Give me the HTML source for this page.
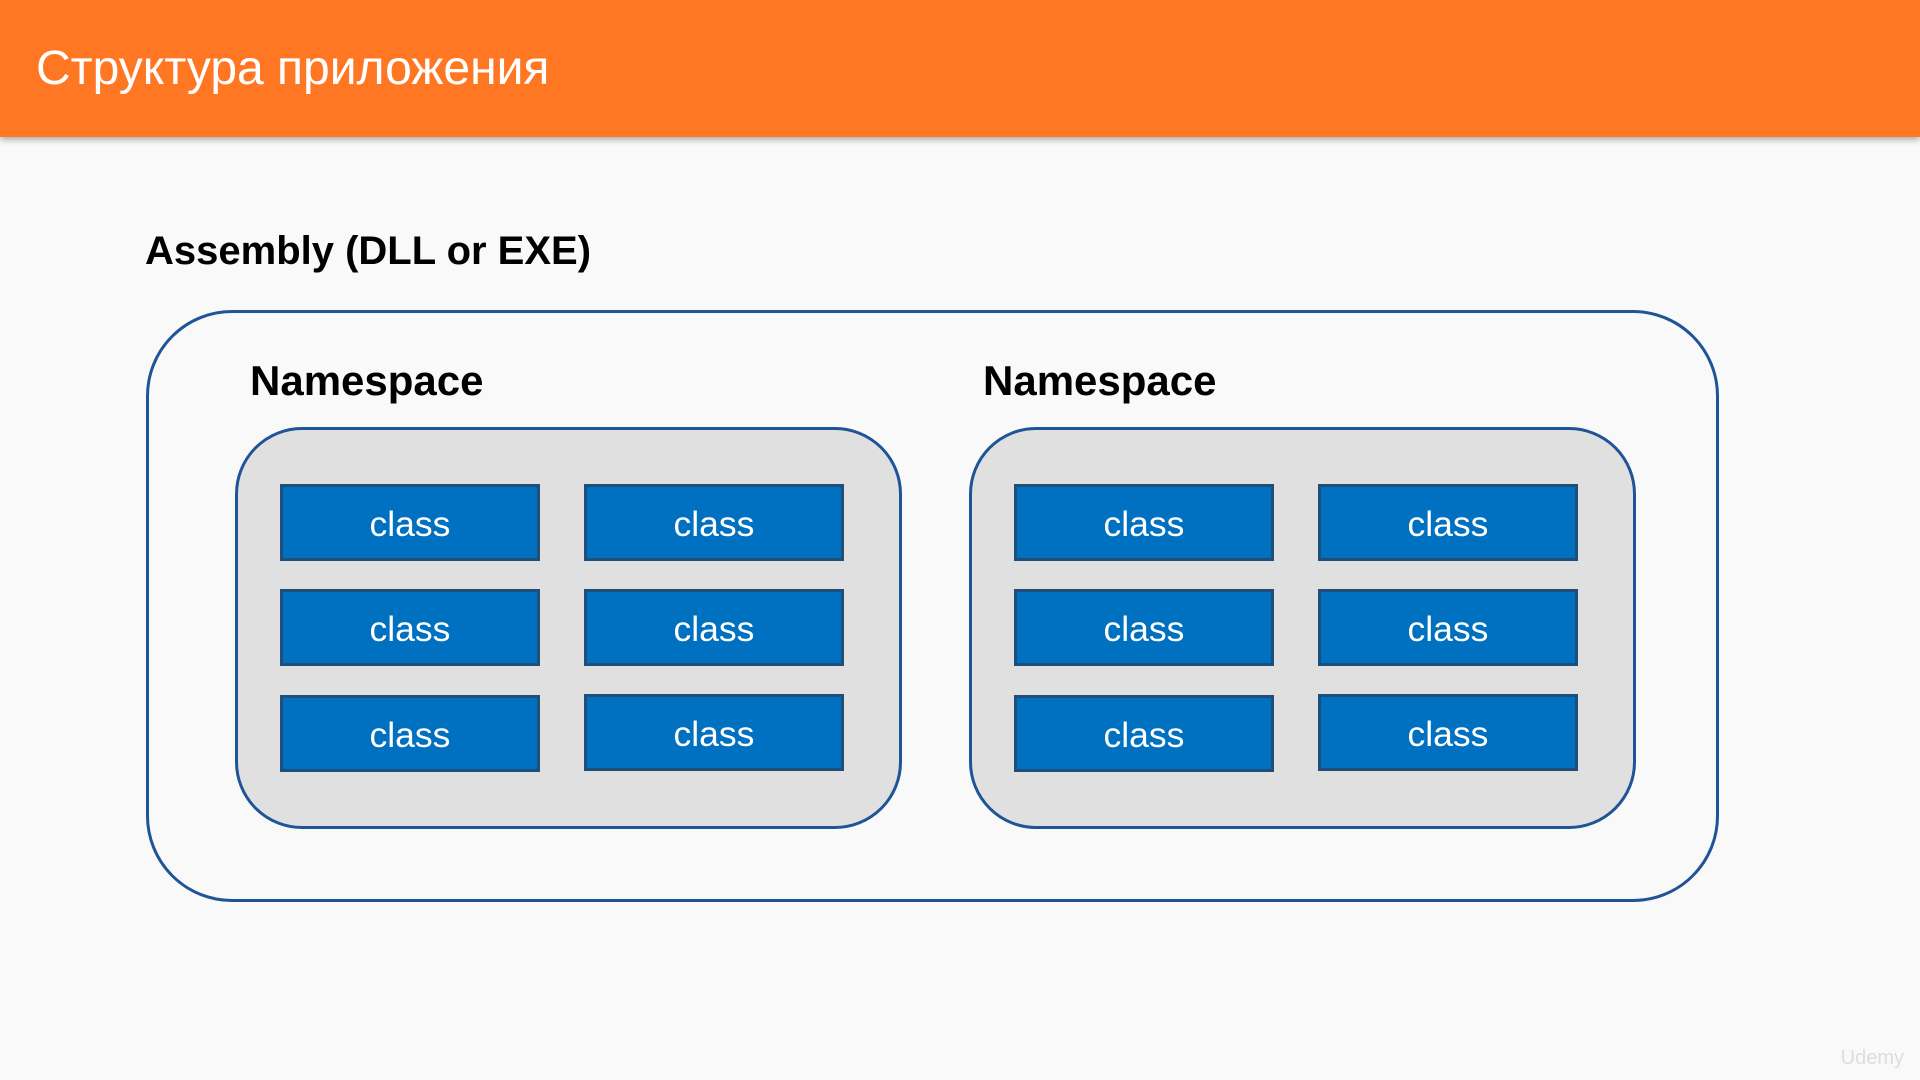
<!DOCTYPE html>
<html><head><meta charset="utf-8"><style>
body{margin:0;width:1920px;height:1080px;background:#f9f9f9;position:relative;overflow:hidden;font-family:"Liberation Sans","DejaVu Sans",sans-serif}
.hdr{position:absolute;left:0;top:0;width:1920px;height:137px;background:#ff7722;box-shadow:0 3px 6px rgba(0,0,0,0.3)}
.hdr span{position:absolute;left:36px;top:45px;font-size:48px;color:#fff;line-height:1}
.lbl{position:absolute;font-weight:bold;font-size:42px;color:#000;line-height:1;font-family:"Liberation Sans",sans-serif}
.outer{position:absolute;left:146px;top:310px;width:1567px;height:586px;border:3.5px solid #1f5597;border-radius:86px}
.ns{position:absolute;top:427px;width:661px;height:396px;background:#e0e0e0;border:3.5px solid #1f5597;border-radius:67px}
.c{position:absolute;width:254px;height:71px;background:#0070c0;border:3.5px solid #1f4e79;color:#fff;font-size:35.5px;text-align:center;line-height:74px}
.wm{position:absolute;right:16px;bottom:10px;color:#ddd;font-size:20px}
</style></head><body>
<div class="hdr"><span>Структура приложения</span></div>
<div class="lbl" style="left:145px;top:231px;font-size:40px">Assembly (DLL or EXE)</div>
<div class="outer"></div>
<div class="lbl" style="left:250px;top:360px">Namespace</div>
<div class="lbl" style="left:983px;top:360px">Namespace</div>
<div class="ns" style="left:235px"></div>
<div class="ns" style="left:969px"></div>
<div class="c" style="left:280px;top:484px">class</div>
<div class="c" style="left:584px;top:484px">class</div>
<div class="c" style="left:280px;top:589px">class</div>
<div class="c" style="left:584px;top:589px">class</div>
<div class="c" style="left:280px;top:695px">class</div>
<div class="c" style="left:584px;top:694px">class</div>
<div class="c" style="left:1014px;top:484px">class</div>
<div class="c" style="left:1318px;top:484px">class</div>
<div class="c" style="left:1014px;top:589px">class</div>
<div class="c" style="left:1318px;top:589px">class</div>
<div class="c" style="left:1014px;top:695px">class</div>
<div class="c" style="left:1318px;top:694px">class</div>
<div class="wm">Udemy</div>
</body></html>
